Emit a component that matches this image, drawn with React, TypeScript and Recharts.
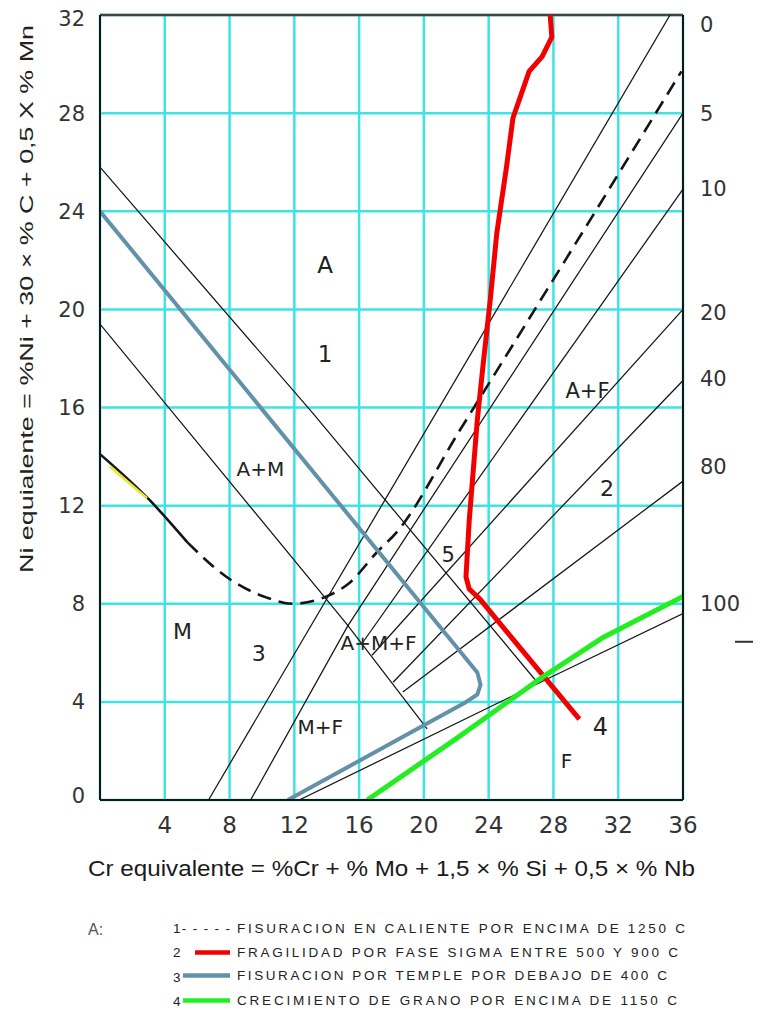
import React from 'react';
import { ComposedChart, Line, Scatter, XAxis, YAxis, CartesianGrid, ReferenceLine } from 'recharts';

// axis ticks
const xTicks = [0, 4, 8, 12, 16, 20, 24, 28, 32, 36];
const yTicks = [0, 4, 8, 12, 16, 20, 24, 28, 32];
// ferrite % labels on the right edge (position in Ni-eq units)
const ferriteTickPos = [31.63, 27.98, 24.92, 19.86, 17.2, 13.61, 8.0, 6.45];
const ferriteTickLabels = ['0', '5', '10', '20', '40', '80', '100', '—'];

// black boundary lines (x = Cr eq, y = Ni eq)
const ferrite0 = [{ x: 6.7, y: 0 }, { x: 35.2, y: 32 }];
const ferrite5 = [{ x: 9.3, y: 0 }, { x: 15.3, y: 7.1 }, { x: 36, y: 28 }];
const ferrite10 = [{ x: 16.2, y: 6.4 }, { x: 36, y: 24.9 }];
const ferrite20 = [{ x: 16.8, y: 5.9 }, { x: 36, y: 20.0 }];
const ferrite40 = [{ x: 18.1, y: 4.8 }, { x: 36, y: 17.1 }];
const ferrite80 = [{ x: 18.7, y: 4.4 }, { x: 36, y: 13.0 }];
const ferrite100 = [{ x: 12.3, y: 0 }, { x: 27.2, y: 4.8 }, { x: 36, y: 7.6 }];
const martUpper = [{ x: 0, y: 25.8 }, { x: 13.1, y: 15.8 }, { x: 27, y: 4.8 }];
const martLower = [{ x: 0, y: 19.4 }, { x: 15.2, y: 7.2 }, { x: 20.2, y: 2.9 }];

// 1: hot cracking (dashed)
const hotCrackSolid = [{ x: 0, y: 14.1 }, { x: 3.1, y: 12.2 }, { x: 5.4, y: 10.5 }];
const hotCrackYellow = [{ x: 0.6, y: 13.6 }, { x: 2.9, y: 12.3 }];
const hotCrackDashed = [
  { x: 5.4, y: 10.5 }, { x: 7.8, y: 9.1 }, { x: 10.3, y: 8.25 }, { x: 11.9, y: 8.0 },
  { x: 14, y: 8.3 }, { x: 15.4, y: 8.85 }, { x: 17.1, y: 10.1 }, { x: 18.3, y: 10.9 },
  { x: 22.2, y: 15.05 }, { x: 28.4, y: 21.65 }, { x: 35.9, y: 29.7 },
];
// 2: sigma embrittlement (red)
const sigmaLine = [
  { x: 27.8, y: 32 }, { x: 27.9, y: 31.1 }, { x: 27.3, y: 30.3 }, { x: 26.5, y: 29.7 },
  { x: 25.5, y: 27.8 }, { x: 25.1, y: 25.8 }, { x: 24.5, y: 23.1 }, { x: 24.1, y: 20.4 },
  { x: 23.65, y: 17.7 }, { x: 23.3, y: 15.5 }, { x: 22.8, y: 11.4 }, { x: 22.6, y: 9.1 },
  { x: 22.8, y: 8.6 }, { x: 23.45, y: 8.2 }, { x: 24.5, y: 7.35 }, { x: 27.2, y: 5.2 },
  { x: 29.6, y: 3.3 },
];
// 3: quench cracking (teal)
const quenchLine = [
  { x: 0, y: 24 }, { x: 23.3, y: 5.2 }, { x: 23.5, y: 4.7 }, { x: 23.3, y: 4.3 },
  { x: 22.5, y: 3.95 }, { x: 11.6, y: 0 },
];
// 4: grain growth (green)
const grainLine = [
  { x: 16.5, y: 0 }, { x: 22, y: 2.5 }, { x: 27.3, y: 5.0 }, { x: 31, y: 6.6 }, { x: 36, y: 8.3 },
];

// region labels
const regionLabels = [
  { x: 13.9, y: 21.8, t: 'A' },
  { x: 13.9, y: 18.2, t: '1' },
  { x: 9.9, y: 13.5, t: 'A+M' },
  { x: 5.1, y: 6.9, t: 'M' },
  { x: 9.8, y: 6.0, t: '3' },
  { x: 17.2, y: 6.4, t: 'A+M+F' },
  { x: 13.6, y: 3.0, t: 'M+F' },
  { x: 21.5, y: 10.0, t: '5' },
  { x: 30.1, y: 16.7, t: 'A+F' },
  { x: 31.3, y: 12.7, t: '2' },
  { x: 30.9, y: 3.0, t: '4' },
  { x: 28.8, y: 1.6, t: 'F' },
];

const legendItems = [
  { n: '2', text: 'FRAGILIDAD POR FASE SIGMA  ENTRE 500 Y 900 C' },
  { n: '3', text: 'FISURACION POR TEMPLE POR DEBAJO DE 400 C' },
  { n: '4', text: 'CRECIMIENTO DE GRANO POR ENCIMA  DE 1150 C' },
];

const labelFont: Record<string, number> = {
  A: 23, '1': 23, 'A+M': 20, M: 22, '3': 22, 'A+M+F': 20, 'M+F': 20, '5': 21, 'A+F': 21, '2': 22, '4': 24, F: 20,
};

const LabelShape = (props: any) => {
  const { cx, cy, payload } = props;
  return (
    <text x={cx} y={cy} dy="0.36em" textAnchor="middle" fontFamily="DejaVu Sans" fontSize={labelFont[payload.t]} fill="#222">
      {payload.t}
    </text>
  );
};

const leftTickShift: Record<number, number> = { 32: 3, 0: -5 };

const LeftTick = (props: any) => {
  const { x, y, payload } = props;
  const s = leftTickShift[payload.value] || 0;
  return (
    <text x={x} y={y + s} dy="0.36em" textAnchor="end" fontFamily="DejaVu Sans" fontSize={21} fill="#333">
      {payload.value}
    </text>
  );
};

const RightTick = (props: any) => {
  const { x, y, payload } = props;
  const i = ferriteTickPos.indexOf(payload.value);
  const lab = ferriteTickLabels[i];
  if (lab === '—') {
    return <line x1={x + 35} x2={x + 60} y1={y} y2={y} stroke="#333" strokeWidth={2} />;
  }
  return (
    <text x={x} y={y} dy="0.36em" textAnchor="start" fontFamily="DejaVu Sans" fontSize={21} fill="#333">
      {lab}
    </text>
  );
};

const BLACK = '#151515';

export default function App() {
  const blackLines = [ferrite0, ferrite5, ferrite10, ferrite20, ferrite40, ferrite80, ferrite100, martUpper, martLower];
  return (
    <div style={{ position: 'relative', width: 745, height: 1021, background: '#fff' }}>
      <ComposedChart width={745} height={850} margin={{ top: 7, right: 10, bottom: 18, left: 32 }}>
        <CartesianGrid yAxisId="l" stroke="#40e2e2" strokeWidth={2.5} />
        <XAxis
          type="number"
          dataKey="x"
          domain={[0, 36]}
          ticks={xTicks}
          interval={0}
          allowDataOverflow
          height={40}
          tickLine={false}
          tickSize={6}
          tickMargin={11}
          tickFormatter={(v: number) => (v === 0 ? '' : String(v))}
          axisLine={{ stroke: BLACK, strokeWidth: 2 }}
          tick={{ fontSize: 23, fill: '#333', fontFamily: 'DejaVu Sans' }}
        />
        <YAxis
          yAxisId="l"
          type="number"
          domain={[0, 32]}
          ticks={yTicks}
          interval={0}
          allowDataOverflow
          width={60}
          tickLine={false}
          tickSize={6}
          tickMargin={9}
          axisLine={{ stroke: BLACK, strokeWidth: 2 }}
          tick={<LeftTick />}
        />
        <YAxis
          yAxisId="r"
          orientation="right"
          type="number"
          domain={[0, 32]}
          ticks={ferriteTickPos}
          interval={0}
          allowDataOverflow
          width={60}
          tickLine={false}
          tickSize={0}
          tickMargin={17}
          axisLine={{ stroke: BLACK, strokeWidth: 2 }}
          tick={<RightTick />}
        />
        <ReferenceLine yAxisId="l" y={32} stroke="#444" strokeWidth={2.5} />
        {blackLines.map((d, i) => (
          <Line key={'b' + i} yAxisId="l" data={d} dataKey="y" type="linear" stroke={BLACK} strokeWidth={1.25} dot={false} isAnimationActive={false} />
        ))}
        <Line yAxisId="l" data={hotCrackSolid} dataKey="y" type="monotone" stroke={BLACK} strokeWidth={2.6} dot={false} isAnimationActive={false} />
        <Line yAxisId="l" data={hotCrackYellow} dataKey="y" type="linear" stroke="#e6e83a" strokeWidth={2.8} dot={false} isAnimationActive={false} />
        <Line yAxisId="l" data={hotCrackDashed} dataKey="y" type="monotone" stroke={BLACK} strokeWidth={2.6} strokeDasharray="14 8" dot={false} isAnimationActive={false} />
        <Line yAxisId="l" data={quenchLine} dataKey="y" type="linear" stroke="#6391a9" strokeWidth={4} strokeLinejoin="round" dot={false} isAnimationActive={false} />
        <Line yAxisId="l" data={sigmaLine} dataKey="y" type="linear" stroke="#f20000" strokeWidth={5} strokeLinejoin="round" dot={false} isAnimationActive={false} />
        <Line yAxisId="l" data={grainLine} dataKey="y" type="linear" stroke="#22ee22" strokeWidth={5} strokeLinejoin="round" dot={false} isAnimationActive={false} />
        <Scatter yAxisId="l" data={regionLabels} dataKey="y" shape={<LabelShape />} isAnimationActive={false} />
      </ComposedChart>
      <svg width={745} height={1021} style={{ position: 'absolute', left: 0, top: 0, pointerEvents: 'none' }}>
        <text
          transform="translate(25,291) rotate(-90)"
          textAnchor="middle"
          textLength={548}
          lengthAdjust="spacingAndGlyphs"
          fontFamily="Liberation Sans, Arial, sans-serif"
          fontSize={19}
          fill="#222"
        >
          Ni equialente = %Ni + 30 × % C + 0,5 X % Mn
        </text>
        <text
          x={80}
          y={868}
          textLength={607}
          lengthAdjust="spacingAndGlyphs"
          fontFamily="Liberation Sans, Arial, sans-serif"
          fontSize={22}
          fill="#1a1a1a"
        >
          Cr equivalente = %Cr + % Mo + 1,5 × % Si + 0,5 × % Nb
        </text>
        <text x={80} y={927} fontFamily="Liberation Sans, Arial, sans-serif" fontSize={16} fill="#555">A:</text>
        <g fontFamily="Liberation Sans, Arial, sans-serif" fontSize={13.5} fill="#222">
          <text x={165} y={925} textLength={57} lengthAdjust="spacing">1- - - - -</text>
          <text x={229} y={925} textLength={448} lengthAdjust="spacing">FISURACION EN CALIENTE POR ENCIMA DE 1250  C</text>
          <text x={165} y={949}>{legendItems[0].n}</text>
          <line x1={187} x2={222} y1={944.5} y2={944.5} stroke="#f20000" strokeWidth={4.5} />
          <text x={229} y={949} textLength={441} lengthAdjust="spacing">{legendItems[0].text}</text>
          <text x={165} y={974}>{legendItems[1].n}</text>
          <line x1={175} x2={222} y1={967.5} y2={967.5} stroke="#6391a9" strokeWidth={4.5} />
          <text x={229} y={972} textLength={430} lengthAdjust="spacing">{legendItems[1].text}</text>
          <text x={165} y={998}>{legendItems[2].n}</text>
          <line x1={175} x2={222} y1={992.5} y2={992.5} stroke="#22ee22" strokeWidth={4.5} />
          <text x={229} y={997} textLength={440} lengthAdjust="spacing">{legendItems[2].text}</text>
        </g>
      </svg>
    </div>
  );
}
